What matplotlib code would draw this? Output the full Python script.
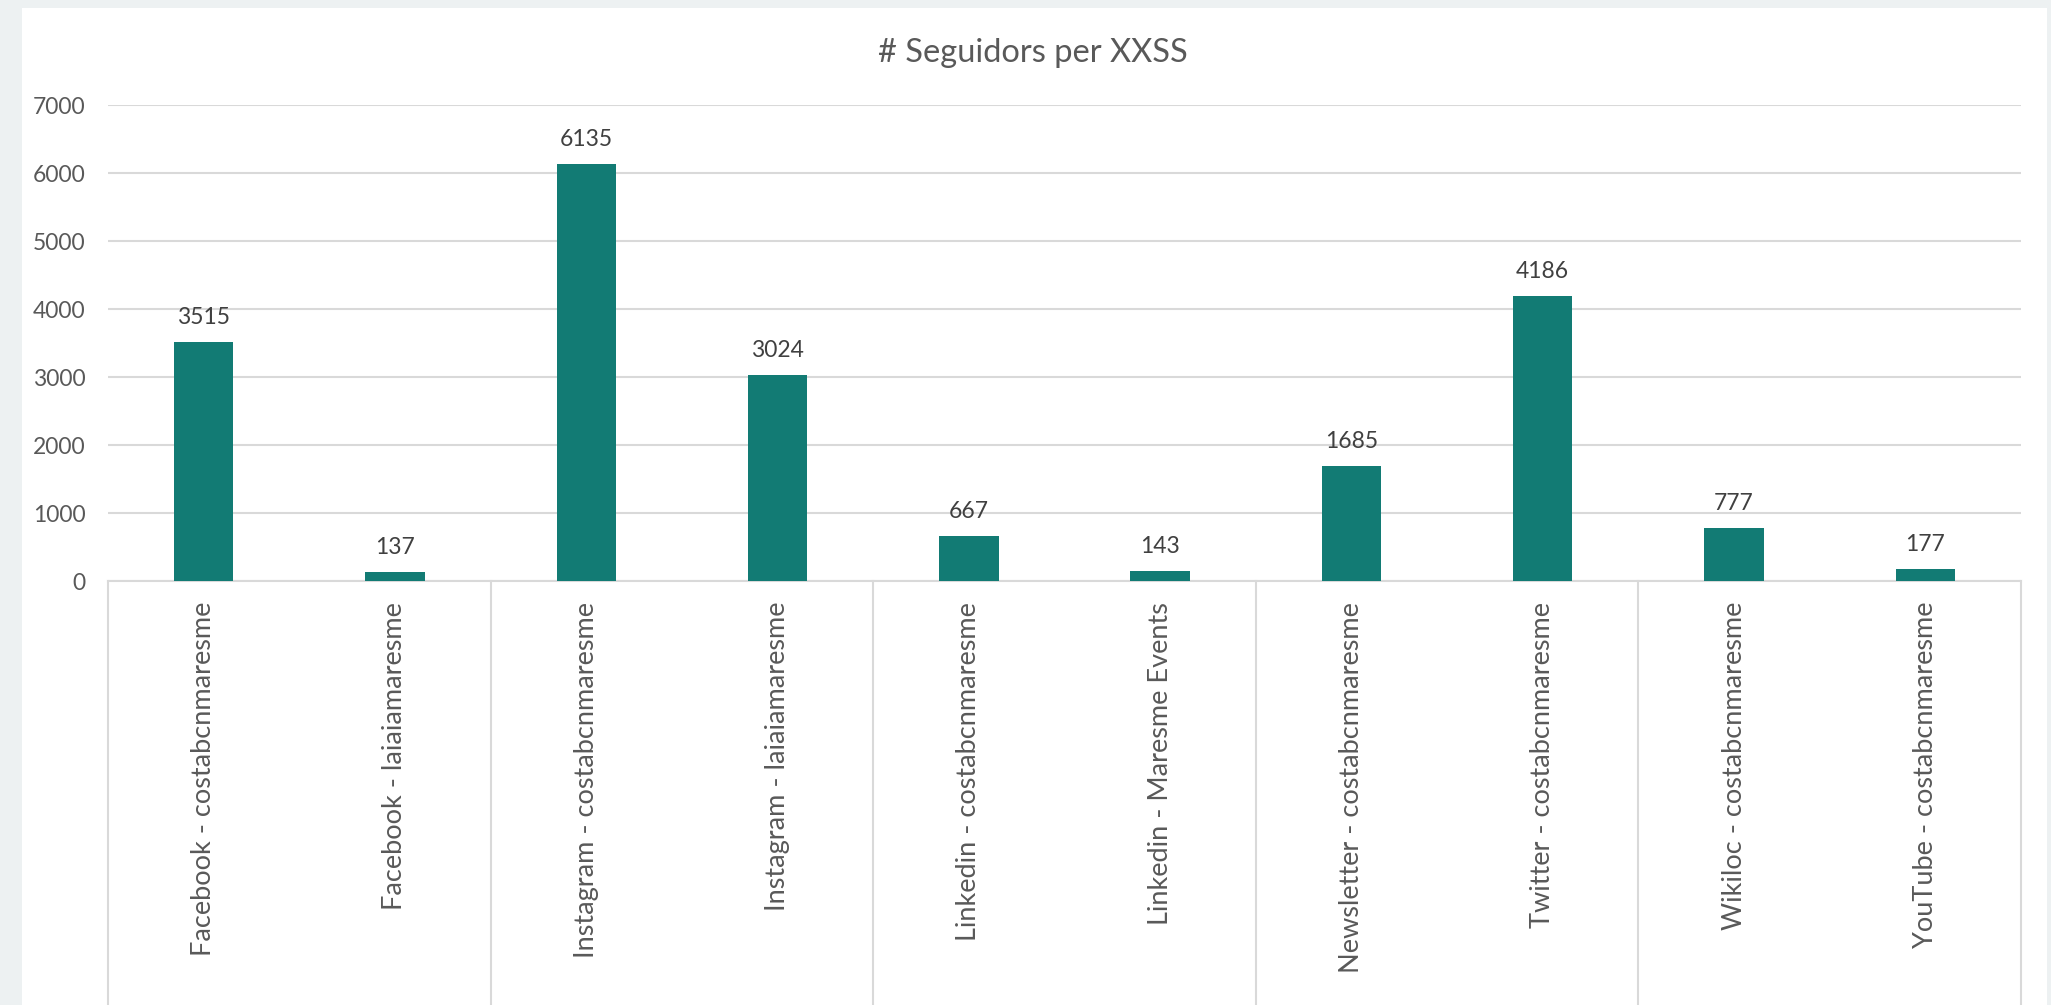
import matplotlib.pyplot as plt
import matplotlib.patches as patches

# --- Data ---
categories = [
    "Facebook - costabcnmaresme",
    "Facebook - laiaiamaresme",
    "Instagram - costabcnmaresme",
    "Instagram - laiaiamaresme",
    "Linkedin - costabcnmaresme",
    "Linkedin - Maresme Events",
    "Newsletter - costabcnmaresme",
    "Twitter - costabcnmaresme",
    "Wikiloc - costabcnmaresme",
    "YouTube - costabcnmaresme",
]
followers = [3515, 137, 6135, 3024, 667, 143, 1685, 4186, 777, 177]
y_ticks = [0, 1000, 2000, 3000, 4000, 5000, 6000, 7000]

BAR_COLOR = "#127b74"
GRID_COLOR = "#d9d9d9"
TEXT_COLOR = "#595959"
LABEL_COLOR = "#404040"

plt.rcParams["font.family"] = ["Lato", "DejaVu Sans"]

W, H = 2051, 1005
fig = plt.figure(figsize=(W / 100, H / 100), dpi=100)
fig.patch.set_facecolor("#edf1f2")

# white chart panel (kept behind the axes)
fig.patches.append(patches.Rectangle((22 / W, 0), (2047 - 22) / W, (H - 8) / H,
                                     transform=fig.transFigure, facecolor="white",
                                     edgecolor="none", zorder=-10))

ax = fig.add_axes([108 / W, 1 - 581 / H, (2021 - 108) / W, (581 - 105) / H])
ax.set_facecolor("none")
ax.set_zorder(1)

x = list(range(len(categories)))
ax.bar(x, followers, width=0.31, color=BAR_COLOR, zorder=3)

for xi, v in zip(x, followers):
    ax.annotate(str(v), (xi, v), xytext=(0, 14), textcoords="offset pixels",
                ha="center", va="bottom", fontsize=16.5, color=LABEL_COLOR)

ax.set_xlim(-0.5, len(categories) - 0.5)
ax.set_ylim(0, 7000)
ax.set_yticks(y_ticks)
ax.set_yticklabels([str(t) for t in y_ticks], fontsize=16.5, color=TEXT_COLOR)
ax.tick_params(axis="y", length=0, pad=16)
ax.yaxis.grid(True, color=GRID_COLOR, linewidth=1.5, zorder=0)
ax.set_axisbelow(True)
for s in ["top", "right", "left"]:
    ax.spines[s].set_visible(False)
ax.spines["bottom"].set_color(GRID_COLOR)
ax.spines["bottom"].set_linewidth(1.5)

# category labels, rotated and hanging from the axis
ax.set_xticks(x)
ax.set_xticklabels(categories, rotation=90, fontsize=19.5, color=TEXT_COLOR,
                   va="top", ha="center")
ax.tick_params(axis="x", length=0, pad=15)

# vertical separators every two categories, running below the axis
trans = ax.get_xaxis_transform()
for sx in [-0.5, 1.5, 3.5, 5.5, 7.5, 9.5]:
    ax.plot([sx, sx], [0, -1.2], transform=trans, color=GRID_COLOR,
            linewidth=1.5, clip_on=False, zorder=1)

fig.text(1033 / W, 1 - 53 / H, "# Seguidors per XXSS", ha="center", va="center",
         fontsize=23.5, color=TEXT_COLOR)

fig.savefig("out.png", dpi=100, facecolor=fig.get_facecolor())
